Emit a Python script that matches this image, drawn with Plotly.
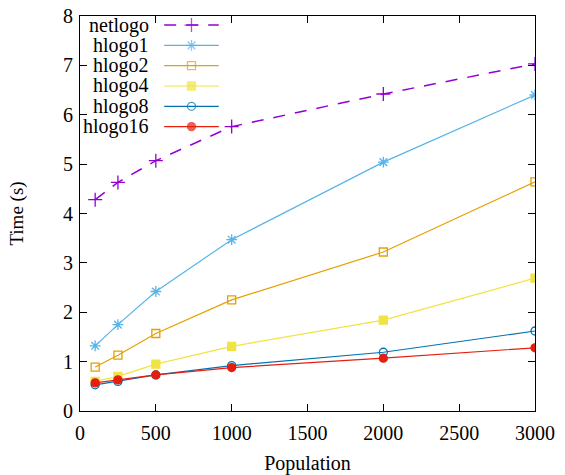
import plotly.graph_objects as go

population = [100, 250, 500, 1000, 2000, 3000]
netlogo = [4.28, 4.63, 5.07, 5.76, 6.42, 7.03]
hlogo1 = [1.32, 1.75, 2.42, 3.47, 5.04, 6.40]
hlogo2 = [0.89, 1.13, 1.57, 2.25, 3.22, 4.64]
hlogo4 = [0.60, 0.70, 0.95, 1.31, 1.84, 2.69]
hlogo8 = [0.53, 0.60, 0.73, 0.92, 1.19, 1.62]
hlogo16 = [0.57, 0.63, 0.73, 0.88, 1.07, 1.28]

series_names = ["netlogo", "hlogo1", "hlogo2", "hlogo4", "hlogo8", "hlogo16"]
series_values = [netlogo, hlogo1, hlogo2, hlogo4, hlogo8, hlogo16]
colors = ["#9400d3", "#56b4e9", "#e69f00", "#f0e442", "#0072b2", "#e51e10"]
symbols = ["cross-thin-open", "asterisk-open", "square-open", "square", "circle-open", "circle"]
msizes = [10, 9, 8, 8, 8, 8]
dashes = ["12px,10px", "solid", "solid", "solid", "solid", "solid"]
widths = [1.5, 1.2, 1.2, 1.2, 1.2, 1.2]

FONT = "Liberation Serif"

fig = go.Figure()
for name, vals, c, s, ms, d, w in zip(series_names, series_values, colors, symbols, msizes, dashes, widths):
    fig.add_trace(go.Scatter(
        x=population, y=vals, name=name, mode="lines+markers",
        line=dict(color=c, width=w, dash=d),
        marker=dict(symbol=s, size=ms, color=c, line=dict(color=c, width=1.3)),
        showlegend=False,
    ))

# gnuplot-style legend (label right-aligned, sample to its right) on an overlay axis
row0 = 0.977
step = 0.0514
for i, (name, c, s, ms, d, w) in enumerate(zip(series_names, colors, symbols, msizes, dashes, widths)):
    yy = row0 - i * step
    fig.add_trace(go.Scatter(
        x=[0.185, 0.245, 0.305], y=[yy, yy, yy], mode="lines+markers",
        xaxis="x2", yaxis="y2", hoverinfo="skip", showlegend=False,
        line=dict(color=c, width=w, dash=d),
        marker=dict(symbol=s, size=[0, ms, 0], color=c, line=dict(color=c, width=1.3)),
    ))
    fig.add_annotation(x=0.156, y=yy, xref="paper", yref="paper", text=name,
                       showarrow=False, xanchor="right", yanchor="middle",
                       font=dict(family=FONT, size=20, color="black"))

fig.update_layout(
    width=565, height=475,
    margin=dict(l=80, r=30, t=16, b=64),
    plot_bgcolor="white", paper_bgcolor="white",
    font=dict(family=FONT, size=20, color="black"),
    xaxis=dict(range=[0, 3000], tickvals=[0, 500, 1000, 1500, 2000, 2500, 3000],
               ticks="inside", ticklen=7, tickcolor="black", showline=True, linecolor="black",
               linewidth=1.2, mirror="ticks", showgrid=False, zeroline=False, automargin=False,
               ticklabeloverflow="allow", ticklabelstandoff=4,
               tickfont=dict(family=FONT, size=20, color="black"),
               title=dict(text="Population", standoff=12,
                          font=dict(family=FONT, size=20, color="black"))),
    yaxis=dict(range=[0, 8], tickvals=list(range(0, 9)),
               ticks="inside", ticklen=7, tickcolor="black", showline=True, linecolor="black",
               linewidth=1.2, mirror="ticks", showgrid=False, zeroline=False, automargin=False,
               ticklabeloverflow="allow", ticklabelstandoff=2,
               tickfont=dict(family=FONT, size=20, color="black"),
               title=dict(text="Time (s)", standoff=34,
                          font=dict(family=FONT, size=19, color="black"))),
    xaxis2=dict(range=[0, 1], overlaying="x", visible=False, fixedrange=True),
    yaxis2=dict(range=[0, 1], overlaying="y", visible=False, fixedrange=True),
)

fig.write_html("out.html", config={"displayModeBar": False},
               post_script="document.body.style.margin='0px';")
